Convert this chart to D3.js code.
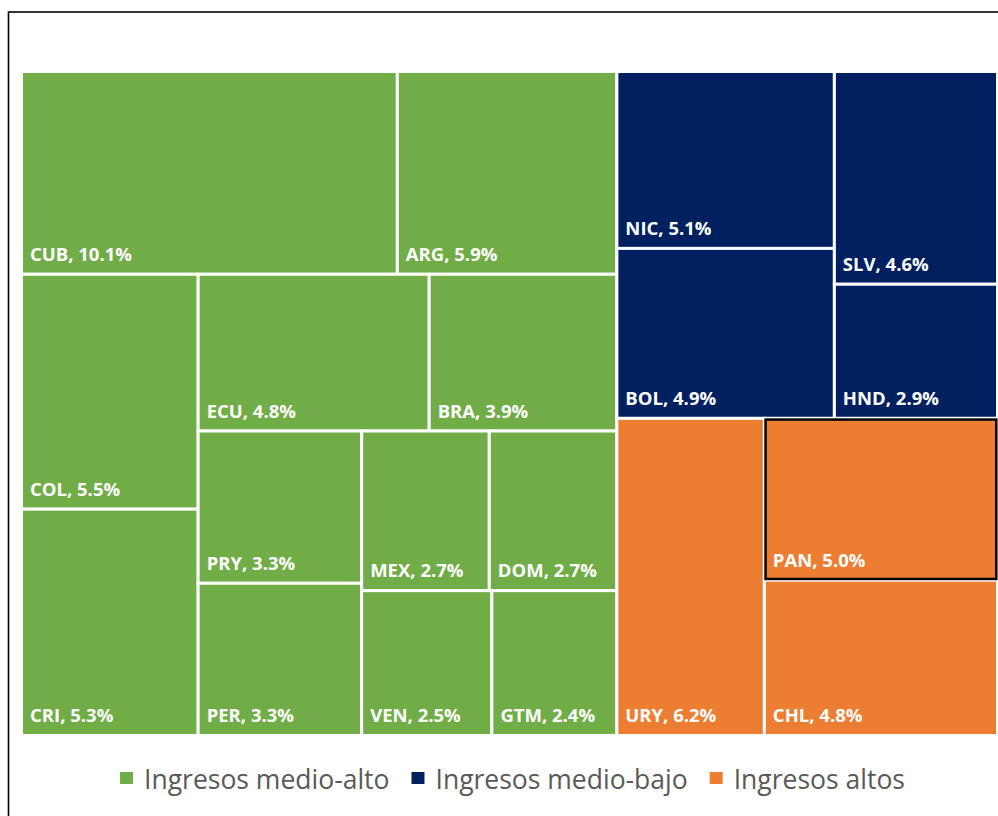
<!DOCTYPE html>
<html>
<head>
<meta charset="utf-8">
<script src="https://cdn.jsdelivr.net/npm/d3@7"></script>
<style>
  html, body { margin: 0; padding: 0; background: #fff; }
  svg { display: block; }
</style>
</head>
<body>
<svg id="chart" width="998" height="816"></svg>
<script>
"use strict";

// income groups (legend order) and their colours
var groups = ["Ingresos medio-alto", "Ingresos medio-bajo", "Ingresos altos"];
var groupColors = ["#70ad47", "#002060", "#ed7d31"];

// countries, share (%) and group index
var countries = ["CUB", "ARG", "COL", "CRI", "ECU", "BRA", "PRY", "PER", "MEX", "DOM", "VEN", "GTM",
                 "NIC", "BOL", "SLV", "HND",
                 "URY", "PAN", "CHL"];
var shares    = [10.1, 5.9, 5.5, 5.3, 4.8, 3.9, 3.3, 3.3, 2.7, 2.7, 2.5, 2.4,
                 5.1, 4.9, 4.6, 2.9,
                 6.2, 5.0, 4.8];
var groupOf   = [0, 0, 0, 0, 0, 0, 0, 0, 0, 0, 0, 0,
                 1, 1, 1, 1,
                 2, 2, 2];

// the tile that is highlighted with a black outline
var selected = "PAN";

var svg = d3.select("#chart");

// outer frame of the chart
svg.append("rect")
    .attr("x", 8.5).attr("y", 12)
    .attr("width", 1010).attr("height", 900)
    .attr("fill", "none")
    .attr("stroke", "#000")
    .attr("stroke-width", 1.6);

// build the hierarchy: root -> group -> country
var tree = {
    name: "root",
    children: groups.map(function(g, gi) {
        return {
            name: g, group: gi,
            children: countries
                .map(function(c, i) { return {name: c, value: shares[i], group: groupOf[i]}; })
                .filter(function(d) { return d.group === gi; })
        };
    })
};

// squarified tiling, same logic as d3's, but with a target ratio below one
// (this reproduces the spreadsheet's arrangement)
function squarifyLow(ratio) {
    return function(parent, x0, y0, x1, y1) {
        var nodes = parent.children, n = nodes.length, i0 = 0, i1 = 0, value = parent.value;
        while (i0 < n) {
            var dx = x1 - x0, dy = y1 - y0;
            var sumValue = nodes[i1++].value, minValue = sumValue, maxValue = sumValue;
            var alpha = Math.max(dy / dx, dx / dy) / (value * ratio);
            var beta = sumValue * sumValue * alpha;
            var minRatio = Math.max(maxValue / beta, beta / minValue);
            for (; i1 < n; ++i1) {
                var v = nodes[i1].value;
                sumValue += v;
                if (v < minValue) minValue = v;
                if (v > maxValue) maxValue = v;
                beta = sumValue * sumValue * alpha;
                var newRatio = Math.max(maxValue / beta, beta / minValue);
                if (newRatio > minRatio) { sumValue -= v; break; }
                minRatio = newRatio;
            }
            var row = {value: sumValue, children: nodes.slice(i0, i1)};
            if (dx < dy) {
                d3.treemapDice(row, x0, y0, x1, value ? y0 += dy * sumValue / value : y1);
            } else {
                d3.treemapSlice(row, x0, y0, value ? x0 += dx * sumValue / value : x1, y1);
            }
            value -= sumValue;
            i0 = i1;
        }
    };
}

var root = d3.hierarchy(tree)
    .sum(function(d) { return d.children ? 0 : d.value; })
    .sort(function(a, b) { return b.value - a.value; });

d3.treemap()
    .tile(squarifyLow(0.8))
    .size([976, 664])
    (root);

var plot = svg.append("g").attr("transform", "translate(21.5,71.5)");

var leaves = plot.selectAll("g.leaf")
    .data(root.leaves())
    .enter().append("g")
    .attr("class", "leaf");

leaves.append("rect")
    .attr("x", function(d) { return d.x0; })
    .attr("y", function(d) { return d.y0; })
    .attr("width", function(d) { return d.x1 - d.x0; })
    .attr("height", function(d) { return d.y1 - d.y0; })
    .attr("fill", function(d) { return groupColors[d.data.group]; })
    .attr("stroke", "#fff")
    .attr("stroke-width", 3);

leaves.append("text")
    .attr("x", function(d) { return d.x0 + 8.5; })
    .attr("y", function(d) { return d.y1 - 13.5; })
    .attr("fill", "#fff")
    .style("font-family", "'Open Sans', sans-serif")
    .style("font-weight", 700)
    .style("font-size", "18.5px")
    .text(function(d) { return d.data.name + ", " + d3.format(".1f")(d.data.value) + "%"; });

// black outline of the selected tile
plot.selectAll("rect.sel")
    .data(root.leaves().filter(function(d) { return d.data.name === selected; }))
    .enter().append("rect")
    .attr("class", "sel")
    .attr("x", function(d) { return d.x0 + 1.2; })
    .attr("y", function(d) { return d.y0 + 1.2; })
    .attr("width", function(d) { return d.x1 - d.x0 - 2.4; })
    .attr("height", function(d) { return d.y1 - d.y0 - 2.4; })
    .attr("fill", "none")
    .attr("stroke", "#000")
    .attr("stroke-width", 2.5);

// legend, centred under the plot
var legend = svg.append("g");
var items = legend.selectAll("g.item")
    .data(groups)
    .enter().append("g")
    .attr("class", "item");

items.append("rect")
    .attr("width", 13).attr("height", 12)
    .attr("y", -17)
    .attr("fill", function(d, i) { return groupColors[i]; });

items.append("text")
    .attr("x", 24)
    .attr("y", 0)
    .attr("fill", "#595959")
    .style("font-family", "'Open Sans', sans-serif")
    .style("font-size", "26.5px")
    .text(function(d) { return d; });

var offset = 0;
items.each(function() {
    var w = 24 + d3.select(this).select("text").node().getComputedTextLength();
    d3.select(this).attr("transform", "translate(" + offset + ",0)");
    offset += w + 22;
});
var legendWidth = offset - 22;
legend.attr("transform", "translate(" + (512.5 - legendWidth / 2) + ",789)");
</script>
</body>
</html>
